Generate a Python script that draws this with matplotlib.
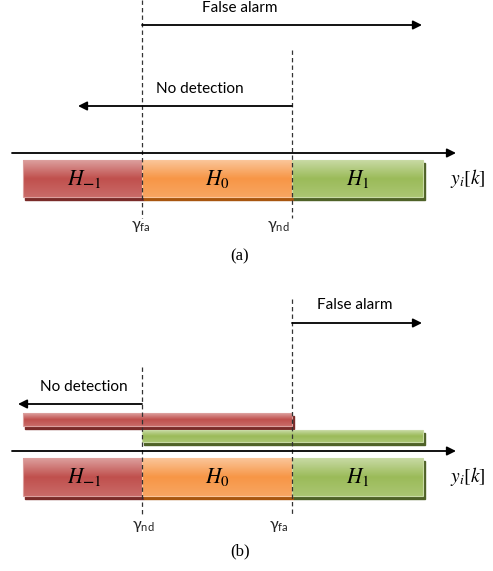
import numpy as np
import matplotlib.pyplot as plt
from matplotlib.colors import LinearSegmentedColormap, to_rgb

# regions of the decision axis (pixel x coordinates of the sketch)
region_names = [r'$H_{\mathbf{-}1}$', r'$H_0$', r'$H_1$']
region_colors = ['#c0504d', '#f79646', '#9bbb59']
region_dark = ['#7a2b29', '#a8560f', '#4f6228']
edges = [23, 142, 292, 423]

# thresholds in panel (a) and panel (b)
thr_a = {'fa': 142, 'nd': 292}
thr_b = {'nd': 142, 'fa': 292}

plt.rcParams['mathtext.fontset'] = 'stix'

fig = plt.figure(figsize=(4.93, 5.71), dpi=100)
ax = fig.add_axes([0, 0, 1, 1])
ax.set_xlim(0, 493)
ax.set_ylim(571, 0)
ax.axis('off')


def shade(c):
    r = np.array(to_rgb(c))
    light = r + (1 - r) * 0.45
    mid = r
    low = r + (1 - r) * 0.15
    return LinearSegmentedColormap.from_list('g', [light, mid, low])


def bar(x0, x1, y0, y1, color, dark):
    # shadow
    ax.add_patch(plt.Rectangle((x0 + 1.5, y0 + 2.5), x1 - x0, y1 - y0, color=dark, zorder=2))
    grad = np.linspace(0, 1, 64).reshape(-1, 1)
    ax.imshow(grad, cmap=shade(color), extent=(x0, x1, y1, y0), aspect='auto', zorder=3)
    ax.add_patch(plt.Rectangle((x0, y0), x1 - x0, y1 - y0, fill=False,
                               ec=shade(color)(0.0), lw=0.8, zorder=4))


def arrow(x0, x1, y):
    ax.annotate('', xy=(x1, y), xytext=(x0, y),
                arrowprops=dict(arrowstyle='-|>', color='black', lw=1.3,
                                mutation_scale=13, shrinkA=0, shrinkB=0), zorder=6)


def dashed(x, y0, y1):
    ax.plot([x, x], [y0, y1], color='#333333', lw=0.9, ls=(0, (3.5, 2.5)), zorder=5)


def gamma(x, y, sub):
    ax.text(x, y, r'$\mathregular{γ_{%s}}$' % sub, fontsize=11.5, family=['Lato', 'DejaVu Sans'],
            ha='center', va='center', color='#222222')


def region_row(ytop, ybot):
    ymid = (ytop + ybot) / 2
    for i in range(3):
        bar(edges[i], edges[i + 1], ytop, ybot, region_colors[i], region_dark[i])
        ax.text((edges[i] + edges[i + 1]) / 2 + (0 if i else 2), ymid, region_names[i],
                fontsize=15.5, ha='center', va='center', zorder=7)
    ax.text(468, ymid, r'$y_i[k]$', fontsize=14, ha='center', va='center')


txt = dict(fontsize=11, family=['Lato', 'DejaVu Sans'], ha='center', va='center')

# ---- panel (a)
dashed(thr_a['fa'], 0, 218)
dashed(thr_a['nd'], 50, 218)
ax.text(240, 8, 'False alarm', **txt)
arrow(thr_a['fa'], 422, 25)
ax.text(200, 89, 'No detection', **txt)
arrow(thr_a['nd'], 78, 106)
arrow(12, 456, 153)
region_row(160, 197)
gamma(thr_a['fa'] - 1, 226, 'fa')
gamma(thr_a['nd'] - 14, 226, 'nd')
ax.text(240, 256, '(a)', fontsize=12, family='Liberation Serif', ha='center', va='center')

# ---- panel (b)
dashed(thr_b['fa'], 299, 516)
dashed(thr_b['nd'], 367, 516)
ax.text(355, 305, 'False alarm', **txt)
arrow(thr_b['fa'], 422, 323)
ax.text(84, 387, 'No detection', **txt)
arrow(thr_b['nd'], 18, 404)
bar(edges[0], edges[2], 413, 426, region_colors[0], region_dark[0])
bar(edges[1], edges[3], 430, 442, region_colors[2], region_dark[2])
arrow(12, 456, 451)
region_row(458, 496)
gamma(thr_b['nd'] + 1, 526, 'nd')
gamma(thr_b['fa'] - 13, 526, 'fa')
ax.text(240, 551, '(b)', fontsize=12, family='Liberation Serif', ha='center', va='center')

fig.savefig('out.png', dpi=100)
